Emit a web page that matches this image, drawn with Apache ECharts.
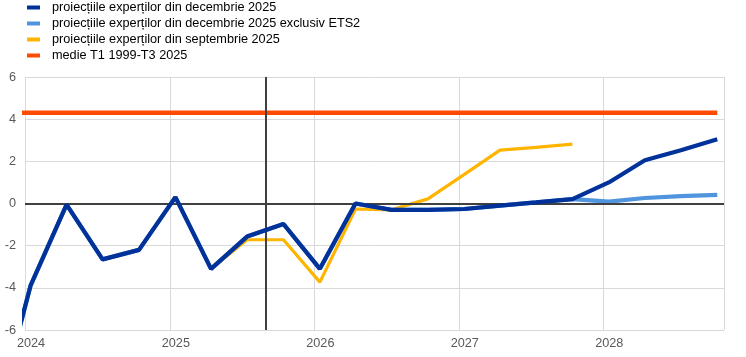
<!DOCTYPE html>
<html>
<head>
<meta charset="utf-8">
<script src="https://cdn.jsdelivr.net/npm/echarts@6/dist/echarts.min.js"></script>
<style>
  html, body { margin: 0; padding: 0; background: #fff; }
  #chart { width: 746px; height: 357px; }
</style>
</head>
<body>
<div id="chart"></div>
<script>
// Quarter dates (mid first month of quarter)
const dates = [
  '2023-10-15',
  '2024-01-15', '2024-04-15', '2024-07-15', '2024-10-15',
  '2025-01-15', '2025-04-15', '2025-07-15', '2025-10-15',
  '2026-01-15', '2026-04-15', '2026-07-15', '2026-10-15',
  '2027-01-15', '2027-04-15', '2027-07-15', '2027-10-15',
  '2028-01-15', '2028-04-15', '2028-07-15', '2028-10-15'
];
const decProj = [
  -10.5,
  -3.9, -0.05, -2.65, -2.2,
  0.3, -3.1, -1.57, -0.97,
  -3.1, 0.0, -0.3, -0.3,
  -0.26, -0.1, 0.05, 0.21,
  1.0, 2.05, 2.53, 3.05
];
const decProjExEts2 = [
  -10.5,
  -3.9, -0.05, -2.65, -2.2,
  0.3, -3.1, -1.57, -0.97,
  -3.1, 0.0, -0.3, -0.3,
  -0.26, -0.1, 0.05, 0.21,
  0.09, 0.26, 0.35, 0.41
];
const sepProj = [
  -10.5,
  -3.9, -0.05, -2.65, -2.2,
  0.3, -3.1, -1.72, -1.72,
  -3.73, -0.26, -0.3, 0.22,
  1.38, 2.53, 2.66, 2.82,
  null, null, null, null
];
const avgValue = 4.3;
const cutoffDate = '2025-09-01';
const yTicks = { min: -6, max: 6, interval: 2 };
const names = [
  'proiecțiile experților din decembrie 2025',
  'proiecțiile experților din decembrie 2025 exclusiv ETS2',
  'proiecțiile experților din septembrie 2025',
  'medie T1 1999-T3 2025'
];

const pairs = arr => dates.map((d, i) => [d, arr[i]]);
const avgSeries = dates.map(() => avgValue);

const chart = echarts.init(document.getElementById('chart'), null, { renderer: 'canvas' });
const font = 'Arial, "Liberation Sans", sans-serif';
const FS = 12.7;
const YEAR = 365.25 * 24 * 3600 * 1000;
const C = { dark: '#003299', light: '#4F94DD', yellow: '#FFB400', red: '#FF4B00' };

chart.setOption({
  animation: false,
  legend: {
    orient: 'vertical',
    left: 27,
    top: 0,
    padding: 0,
    itemGap: 1,
    itemWidth: 13,
    itemHeight: 4,
    icon: 'rect',
    textStyle: { fontFamily: font, fontSize: FS, color: '#000', lineHeight: 15, padding: [0, 0, 0, 7] },
    data: names
  },
  grid: { left: 25, right: 22, top: 77, bottom: 27, containLabel: false },
  xAxis: {
    type: 'time',
    min: '2024-01-01',
    max: '2028-11-01',
    splitNumber: 5,
    minInterval: YEAR * 0.99,
    maxInterval: YEAR * 1.01,
    axisLine: { show: false },
    axisTick: { show: false },
    splitLine: { show: true, lineStyle: { color: '#d9d9d9', width: 1 } },
    axisLabel: {
      formatter: '{yyyy}',
      fontFamily: font, fontSize: FS, color: '#595959',
      margin: 7,
      padding: [0, 0, 0, 12],
      showMinLabel: true
    }
  },
  yAxis: {
    type: 'value',
    min: yTicks.min, max: yTicks.max, interval: yTicks.interval,
    axisLine: { show: false },
    axisTick: { show: false },
    splitLine: { lineStyle: { color: '#d9d9d9', width: 1 } },
    axisLabel: { fontFamily: font, fontSize: FS, color: '#595959', margin: 9 }
  },
  series: [
    {
      name: names[3], type: 'line', data: pairs(avgSeries), symbol: 'none',
      itemStyle: { color: C.red },
      lineStyle: { width: 4.5, color: C.red }, z: 2,
      markLine: {
        silent: true, symbol: 'none', label: { show: false },
        lineStyle: { color: '#404040', width: 2, type: 'solid' },
        data: [{ yAxis: 0 }, { xAxis: cutoffDate }]
      }
    },
    {
      name: names[2], type: 'line', data: pairs(sepProj), symbol: 'none',
      itemStyle: { color: C.yellow },
      lineStyle: { width: 3.2, color: C.yellow }, z: 3
    },
    {
      name: names[1], type: 'line', data: pairs(decProjExEts2), symbol: 'none',
      itemStyle: { color: C.light },
      lineStyle: { width: 4.2, color: C.light }, z: 4
    },
    {
      name: names[0], type: 'line', data: pairs(decProj), symbol: 'none',
      itemStyle: { color: C.dark },
      lineStyle: { width: 4.2, color: C.dark }, z: 5
    }
  ]
});
</script>
</body>
</html>
